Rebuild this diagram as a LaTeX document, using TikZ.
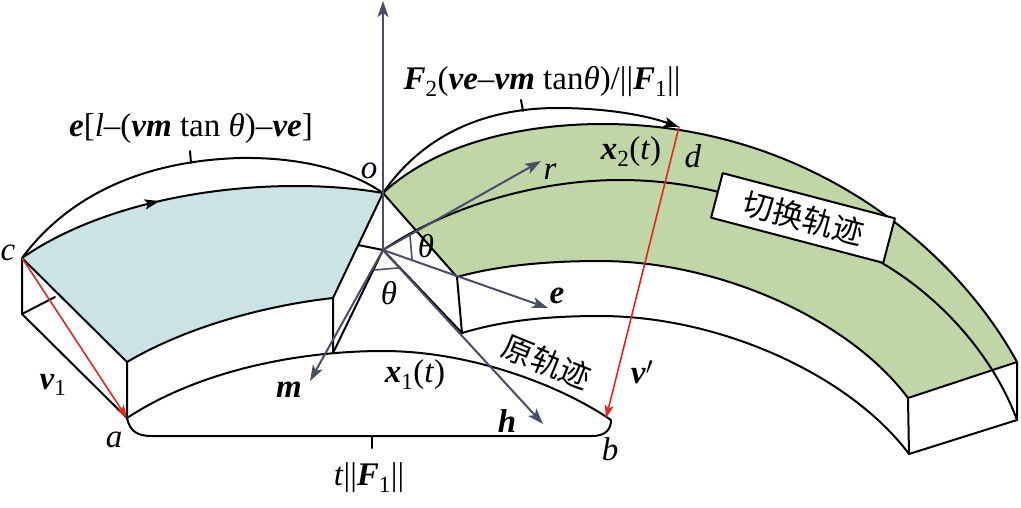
\documentclass[tikz,border=0pt]{standalone}
\usepackage{fontspec}
\setmainfont{Liberation Serif}
\newfontfamily\cjk{Noto Sans CJK SC}
\usetikzlibrary{arrows.meta,decorations.markings}
\definecolor{facegreen}{RGB}{193,214,166}
\definecolor{faceblue}{RGB}{203,227,229}
\definecolor{vecgray}{RGB}{72,78,102}
\definecolor{redline}{RGB}{228,38,32}
\newcommand\bv[1]{\textbf{\textit{#1}}}
\begin{document}
\begin{tikzpicture}[x=1pt,y=-1pt,line join=round,line cap=round,
  edge/.style={black,line width=2pt},
  vec/.style={vecgray,line width=2pt,-{Stealth[length=16pt,width=11pt,inset=4pt]}},
  anglemark/.style={vecgray,line width=1.6pt},
  redvec/.style={redline,line width=1.6pt,-{Stealth[length=13pt,width=9pt,inset=3pt]}},
  dimarrow/.style={black,line width=2pt,-{Stealth[length=15pt,width=10pt,inset=3pt]}},
  lbl/.style={font=\fontsize{33}{37}\selectfont,inner sep=0pt},
  cjklbl/.style={font=\cjk\fontsize{31}{35}\selectfont,inner sep=0pt}]
\useasboundingbox (0,0) rectangle (1021,507);
% key points
\coordinate (c) at (22,258);
\coordinate (o) at (383,193);
\coordinate (P) at (383,250);
\coordinate (a) at (127,418);
\coordinate (b) at (611,420);
\coordinate (d) at (679,127);
\coordinate (bl1) at (333,298);
\coordinate (bl2) at (127,362);
\coordinate (bl3) at (333,353);
\coordinate (cs) at (22,314);
\coordinate (cs2) at (55,297);
\coordinate (bl4) at (358,245);
\coordinate (g1) at (457,277);
\coordinate (g2) at (462,333);
\coordinate (e1) at (908,398);
\coordinate (e2) at (1017,362);
\coordinate (e3) at (1017,420);
\coordinate (e4) at (909,454);
% fills
\fill[faceblue] (c) .. controls (120,190) and (280,175) .. (o) -- (bl1)
  .. controls (270,305) and (190,325) .. (bl2) -- cycle;
\fill[facegreen] (o) .. controls (440,140) and (530,124) .. (603,124)
  .. controls (800,124) and (950,240) .. (e2) -- (e1)
  .. controls (850,320) and (720,261) .. (600,261) .. controls (550,261) and (500,265) .. (g1) -- cycle;
% blue block edges
\draw[edge,postaction={decorate},decoration={markings,mark=at position 0.4 with {\arrow{Stealth[length=15pt,width=10pt,inset=3pt]}}}]
  (c) .. controls (120,190) and (280,175) .. (o);
\draw[edge] (bl1) .. controls (270,305) and (190,325) .. (bl2);
\draw[edge] (c) -- (bl2) -- (a);
\draw[edge] (c) -- (cs) -- (a);
\draw[edge] (cs) -- (cs2);
\draw[edge] (o) -- (bl1) -- (bl3);
\draw[edge] (bl4) -- (P);
\draw[edge] (bl3) -- (P);
% x1 trajectory
\draw[edge] (a) .. controls (200,370) and (300,351) .. (383,351) .. controls (470,351) and (560,385) .. (b);
% bottom bracket
\draw[edge] (a) .. controls (130,432) and (138,436) .. (152,436) -- (592,436) .. controls (605,436) and (611,430) .. (b);
\draw[edge] (372,436) -- (372,448);
% left dimension arc
\draw[edge] (c) .. controls (80,180) and (170,160) .. (240,158) .. controls (300,157) and (350,170) .. (o);
\draw[edge] (191,163) -- (190,151);
% green block edges
\draw[edge] (o) .. controls (440,140) and (530,124) .. (603,124) .. controls (800,124) and (950,240) .. (e2);
\draw[edge] (g1) .. controls (500,265) and (550,261) .. (600,261) .. controls (720,261) and (850,320) .. (e1);
\draw[edge] (g2) .. controls (505,320) and (550,316) .. (600,316) .. controls (720,316) and (850,375) .. (e4);
\draw[edge] (o) -- (g1) -- (g2);
\draw[edge] (P) -- (g2);
\draw[edge] (e1) -- (e2) -- (e3) -- (e4) -- cycle;
% middle (switching) trajectory
\draw[edge] (P) .. controls (450,205) and (540,180) .. (620,180) .. controls (720,180) and (800,215) .. (882,263)
  .. controls (945,300) and (995,360) .. (e3);
% right dimension arc
\draw[dimarrow] (o) .. controls (430,125) and (500,108) .. (557,108) .. controls (605,108) and (645,115) .. (d);
\draw[edge] (523,111) -- (521,100);
% label box
\node[draw,fill=white,line width=2pt,rotate=-14.7,minimum width=178pt,minimum height=46pt,inner sep=0pt,cjklbl] (box) at (803,218) {切换轨迹};
% vectors
\draw[vec] (P) -- (383,1);
\draw[vec] (P) -- (541,161);
\draw[vec] (P) -- (548,308);
\draw[vec] (P) -- (543,424);
\draw[vec] (P) -- (310,381);
\draw[anglemark] (410,236) -- (412,259);
\draw[anglemark] (374,270) -- (398,268);
% red vectors
\draw[redvec] (c) -- (a);
\draw[redvec] (d) -- (606,418);
% labels
\node[lbl] (lo) at (369,171) {\textit{o}};
\node[lbl] (lc) at (8,253) {\textit{c}};
\node[lbl] (ld) at (693,156) {\textit{d}};
\node[lbl] (la) at (114,440) {\textit{a}};
\node[lbl] (lb) at (610,449) {\textit{b}};
\node[lbl] (lr) at (550,172) {\textit{r}};
\node[lbl] (lth1) at (426,246) {\textit{θ}};
\node[lbl] (lth2) at (389,293) {\textit{θ}};
\node[lbl] (le) at (557,296) {\bv{e}};
\node[lbl] (lm) at (289,390) {\bv{m}};
\node[lbl] (lh) at (507,421) {\bv{h}};
\node[lbl] (lx1) at (415,375) {\bv{x}\textsubscript{1}(\textit{t})};
\node[lbl] (lx2) at (631,152) {\bv{x}\textsubscript{2}(\textit{t})};
\node[lbl] (lv1) at (53,385) {\bv{v}\textsubscript{1}};
\node[lbl] (lvp) at (642,372) {\bv{v}$'$};
\node[lbl] (lt) at (369,478) {\textit{t}||\bv{F}\textsubscript{1}||};
\node[lbl] (ltop1) at (191,128) {\bv{e}[\textit{l}–(\bv{vm} tan \textit{θ})–\bv{ve}]};
\node[lbl] (ltop2) at (542,82) {\bv{F}\textsubscript{2}(\bv{ve}–\bv{vm} tan\textit{θ})/||\bv{F}\textsubscript{1}||};
\node[cjklbl,rotate=-22] (lorig) at (547,362) {原轨迹};
\end{tikzpicture}
\end{document}
